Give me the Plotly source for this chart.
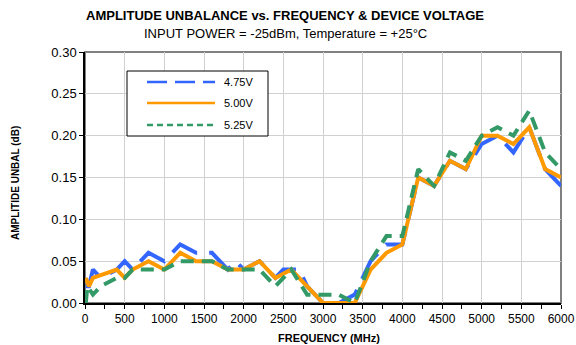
import plotly.graph_objects as go

# Amplitude unbalance (dB) vs. frequency (MHz) at three supply voltages
freq_475 = [10, 50, 100, 200, 400, 500, 600, 800, 1000, 1200, 1400, 1600, 1800, 1900,
            2000, 2200, 2400, 2500, 2600, 2700, 2800, 3000, 3200, 3400, 3600, 3800,
            4000, 4200, 4400, 4600, 4800, 5000, 5200, 5400, 5600, 5800, 6000]
unbal_475 = [0.02, 0.02, 0.04, 0.03, 0.04, 0.05, 0.04, 0.06, 0.05, 0.07, 0.06, 0.06,
             0.04, 0.05, 0.04, 0.05, 0.03, 0.04, 0.04, 0.04, 0.02, 0.00, 0.00, 0.01,
             0.05, 0.07, 0.07, 0.15, 0.14, 0.17, 0.16, 0.19, 0.20, 0.18, 0.21, 0.16, 0.14]

freq_500 = [10, 50, 100, 400, 500, 600, 800, 1000, 1200, 1400, 1600, 1800, 2000,
            2200, 2400, 2600, 2800, 3000, 3200, 3400, 3600, 3800, 4000, 4200, 4400,
            4600, 4800, 5000, 5200, 5400, 5600, 5800, 6000]
unbal_500 = [0.03, 0.02, 0.03, 0.04, 0.03, 0.04, 0.05, 0.04, 0.06, 0.05, 0.05, 0.04,
             0.04, 0.05, 0.03, 0.04, 0.02, 0.00, 0.00, 0.00, 0.04, 0.06, 0.07, 0.15,
             0.14, 0.17, 0.16, 0.20, 0.20, 0.19, 0.21, 0.16, 0.15]

freq_525 = [10, 30, 100, 200, 400, 500, 600, 800, 1000, 1200, 1400, 1600, 1800, 2000,
            2200, 2400, 2600, 2800, 3000, 3200, 3400, 3600, 3800, 4000, 4200, 4400,
            4600, 4800, 5000, 5200, 5400, 5600, 5800, 6000]
unbal_525 = [0.00, 0.02, 0.01, 0.02, 0.03, 0.03, 0.04, 0.04, 0.04, 0.05, 0.05, 0.05,
             0.04, 0.04, 0.04, 0.02, 0.04, 0.01, 0.01, 0.01, 0.00, 0.05, 0.08, 0.08,
             0.16, 0.14, 0.18, 0.17, 0.20, 0.21, 0.20, 0.23, 0.18, 0.16]

series_names = ["4.75V", "5.00V", "5.25V"]
series_colors = ["#3366ff", "#ff9900", "#339966"]
plot_dash = ["30px,12px", "solid", "13px,8px"]
key_dash = ["20px,8px", "solid", "6px,4px"]

FONT = "Liberation Sans, Arial, sans-serif"

fig = go.Figure()
for fx, fy, name, color, dash in zip(
    [freq_475, freq_500, freq_525],
    [unbal_475, unbal_500, unbal_525],
    series_names, series_colors, plot_dash,
):
    fig.add_trace(go.Scatter(
        x=fx, y=fy, mode="lines", name=name,
        line=dict(color=color, width=4, dash=dash),
        showlegend=False,
    ))

# Plot area in pixels: x 85..561, y 52..303 (paper coords derived from these)
L, R, T, B = 85, 561, 52, 303
def px(x):
    return (x - L) / (R - L)
def py(y):
    return (B - y) / (B - T)

shapes = [
    # grey frame on top/right
    dict(type="rect", xref="paper", yref="paper", x0=0, x1=1, y0=0, y1=1,
         line=dict(color="#808080", width=2), layer="below"),
    # key box
    dict(type="rect", xref="paper", yref="paper",
         x0=px(127), x1=px(268), y0=py(136), y1=py(71),
         line=dict(color="black", width=1), fillcolor="white", layer="above"),
]
annotations = []
for i, (name, color, dash) in enumerate(zip(series_names, series_colors, key_dash)):
    yy = py([82, 103, 125][i])
    shapes.append(dict(type="line", xref="paper", yref="paper",
                       x0=px(147), x1=px(215), y0=yy, y1=yy,
                       line=dict(color=color, width=2.5, dash=dash), layer="above"))
    annotations.append(dict(xref="paper", yref="paper", x=px(222), y=yy,
                            text=name, showarrow=False, xanchor="left", yanchor="middle",
                            font=dict(family=FONT, size=11, color="black")))

annotations += [
    dict(xref="paper", yref="paper", x=px(285), y=py(16),
         text="<b>AMPLITUDE UNBALANCE vs. FREQUENCY &amp; DEVICE VOLTAGE</b>",
         showarrow=False, xanchor="center", yanchor="middle",
         font=dict(family=FONT, size=13, color="black")),
    dict(xref="paper", yref="paper", x=px(285), y=py(33),
         text="INPUT POWER = -25dBm, Temperature = +25°C",
         showarrow=False, xanchor="center", yanchor="middle",
         font=dict(family=FONT, size=13, color="black")),
    dict(xref="paper", yref="paper", x=px(15), y=py(183),
         text="<b>AMPLITIDE UNBAL (dB)</b>", textangle=-90,
         showarrow=False, xanchor="center", yanchor="middle",
         font=dict(family=FONT, size=10, color="black")),
    dict(xref="paper", yref="paper", x=px(329), y=py(338),
         text="<b>FREQUENCY (MHz)</b>",
         showarrow=False, xanchor="center", yanchor="middle",
         font=dict(family=FONT, size=11, color="black")),
]

fig.update_layout(
    width=576, height=345, autosize=False,
    margin=dict(l=L, r=576 - R, t=T, b=345 - B, pad=0, autoexpand=False),
    paper_bgcolor="white", plot_bgcolor="white",
    font=dict(family=FONT, size=12, color="black"),
    shapes=shapes, annotations=annotations,
    xaxis=dict(
        range=[0, 6000], dtick=500, tick0=0, automargin=False,
        showgrid=True, gridcolor="#d0d0d0", gridwidth=1,
        zeroline=False, showline=True, linecolor="black", linewidth=1.5,
        ticks="outside", ticklen=4, tickcolor="black", tickwidth=1,
        minor=dict(dtick=250, ticks="outside", ticklen=4, tickcolor="black", showgrid=False),
        tickfont=dict(family=FONT, size=12, color="black"),
    ),
    yaxis=dict(
        range=[0, 0.30], dtick=0.05, tick0=0, tickformat=".2f", automargin=False,
        showgrid=True, gridcolor="#d0d0d0", gridwidth=1,
        zeroline=False, showline=True, linecolor="black", linewidth=1.5,
        ticks="outside", ticklen=4, tickcolor="black", tickwidth=1,
        tickfont=dict(family=FONT, size=13, color="black"),
    ),
)

fig.write_html("out.html")
